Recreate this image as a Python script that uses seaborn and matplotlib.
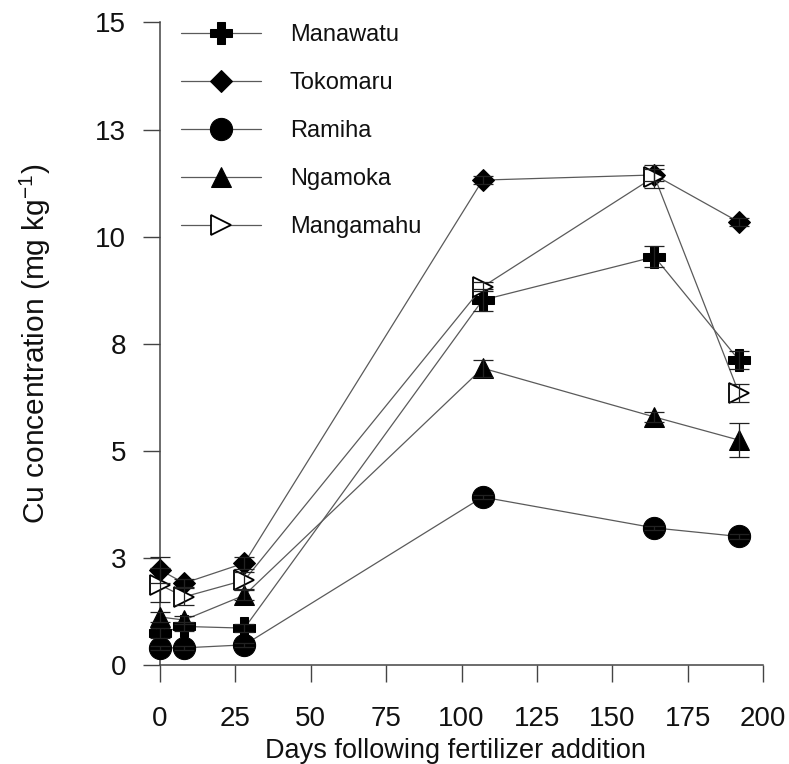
import matplotlib
matplotlib.use("Agg")
import matplotlib.pyplot as plt
import seaborn as sns
import numpy as np

# Sampling days after fertilizer addition
days = [0, 8, 28, 107, 164, 192]

# Mean Cu concentration (mg/kg) and standard error for each soil
manawatu = [0.75, 0.90, 0.86, 8.52, 9.53, 7.12]
manawatu_err = [0.12, 0.10, 0.10, 0.25, 0.25, 0.20]
tokomaru = [2.22, 1.91, 2.38, 11.32, 11.44, 10.34]
tokomaru_err = [0.30, 0.10, 0.15, 0.10, 0.15, 0.10]
ramiha = [0.40, 0.40, 0.47, 3.92, 3.20, 3.00]
ramiha_err = [0.05, 0.05, 0.05, 0.05, 0.05, 0.05]
ngamoka = [1.12, 1.05, 1.63, 6.93, 5.79, 5.25]
ngamoka_err = [0.12, 0.10, 0.12, 0.20, 0.12, 0.40]
mangamahu = [1.87, 1.59, 1.98, 8.83, 11.40, 6.35]
mangamahu_err = [0.40, 0.20, 0.20, 0.10, 0.27, 0.20]

soil_names = ["Manawatu", "Tokomaru", "Ramiha", "Ngamoka", "Mangamahu"]

x_ticks = [0, 25, 50, 75, 100, 125, 150, 175, 200]
y_ticks = [0, 2.5, 5, 7.5, 10, 12.5, 15]
y_tick_labels = ["0", "3", "5", "8", "10", "13", "15"]

sns.set_theme(style="ticks")
plt.rcParams["font.family"] = ["Liberation Sans", "DejaVu Sans"]
plt.rcParams["mathtext.default"] = "regular"

fig = plt.figure(figsize=(7.89, 7.64), dpi=100)
ax = fig.add_axes([0.2028, 0.1296, 0.7643, 0.841])

series = [
    (manawatu, manawatu_err, dict(marker="P", markersize=16.5, markerfacecolor="black")),
    (tokomaru, tokomaru_err, dict(marker="D", markersize=11.5, markerfacecolor="black")),
    (ramiha, ramiha_err, dict(marker="o", markersize=16, markerfacecolor="black")),
    (ngamoka, ngamoka_err, dict(marker="^", markersize=15, markerfacecolor="black")),
    (mangamahu, mangamahu_err, dict(marker=">", markersize=14, markerfacecolor="white",
                                   markeredgewidth=1.3)),
]

line_color = "#5a5a5a"
for name, (vals, errs, style) in zip(soil_names, series):
    sns.lineplot(x=days, y=vals, ax=ax, color=line_color, linewidth=0.9,
                 markeredgecolor="black", label=name, clip_on=False,
                 zorder=3, **style)
    ax.errorbar(days, vals, yerr=errs, fmt="none", ecolor="#222222",
                elinewidth=0.9, capsize=7, capthick=0.9, clip_on=False, zorder=4)

ax.set_xlim(0, 200)
ax.set_ylim(0, 15)
ax.set_xticks(x_ticks)
ax.set_yticks(y_ticks)
ax.set_yticklabels(y_tick_labels)

for side in ["top", "right"]:
    ax.spines[side].set_visible(False)
for side in ["left", "bottom"]:
    ax.spines[side].set_color("#444444")
    ax.spines[side].set_linewidth(1.1)

ax.tick_params(axis="both", direction="out", length=12.5, width=1.0,
               color="#444444", labelsize=20, labelcolor="#111111")
ax.tick_params(axis="x", pad=17)
ax.tick_params(axis="y", pad=12)

ax.set_xlabel("Days following fertilizer addition", fontsize=19.5, color="#111111")
ax.xaxis.set_label_coords(0.49, -0.113)
ax.set_ylabel("Cu concentration (mg kg$^{-1}$)", fontsize=21.5, color="#111111",
              labelpad=30)

leg = ax.legend(loc="upper left", bbox_to_anchor=(0.035, 0.997), frameon=False,
                fontsize=17, handlelength=3.4, handletextpad=1.2,
                labelspacing=1.1, borderpad=0, borderaxespad=0, numpoints=1)
for t in leg.get_texts():
    t.set_color("#111111")

fig.savefig("out.png", dpi=100)
